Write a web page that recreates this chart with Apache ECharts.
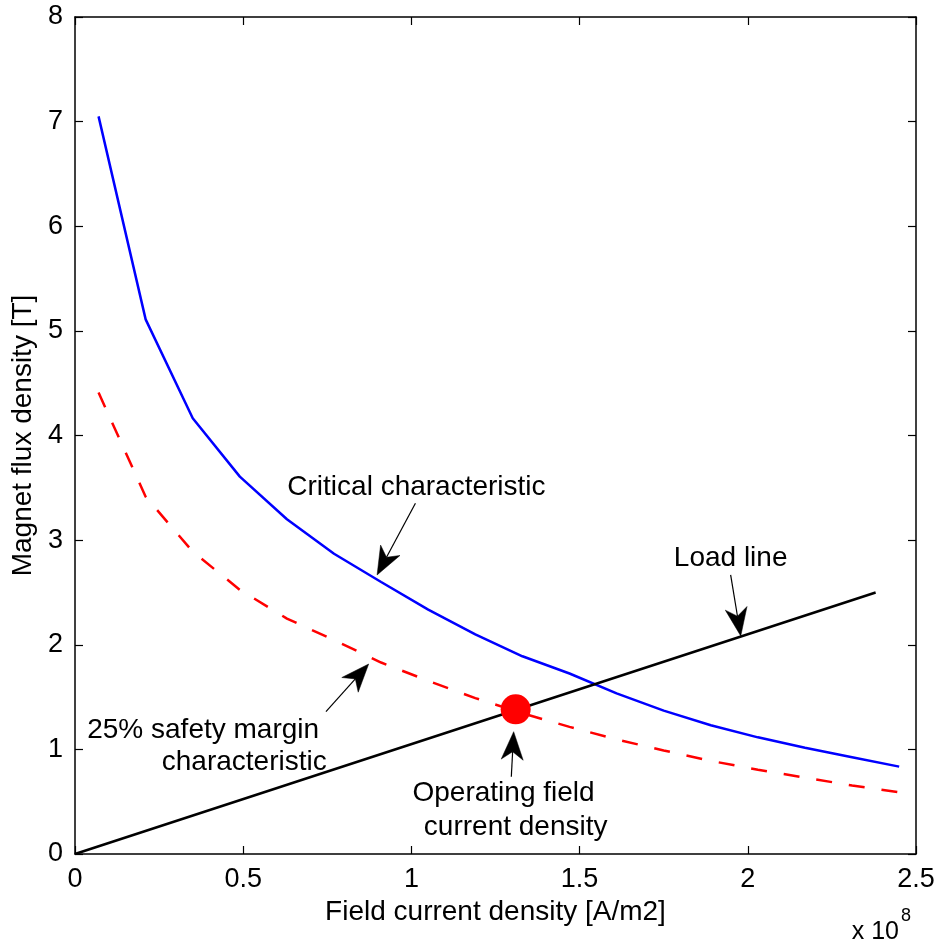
<!DOCTYPE html>
<html><head><meta charset="utf-8">
<script src="https://cdn.jsdelivr.net/npm/echarts@6/dist/echarts.min.js"></script>
<style>html,body{margin:0;padding:0;background:#fff}#c{width:938px;height:945px}</style>
</head><body><div id="c"></div>
<script>
// Field current density (units of 1e8 A/m2)
const currentDensity = [0.07,0.21,0.35,0.49,0.63,0.77,0.91,1.05,1.19,1.33,1.47,1.61,1.75,1.89,2.03,2.17,2.31,2.45];
// Critical characteristic (T)
const criticalB = [7.05,5.11,4.165,3.607,3.20,2.87,2.60,2.335,2.10,1.89,1.725,1.535,1.37,1.23,1.115,1.015,0.925,0.835];
// 25% safety margin characteristic (T)
const marginB = [4.41,3.415,2.89,2.525,2.25,2.045,1.83,1.655,1.49,1.345,1.215,1.095,0.99,0.89,0.805,0.73,0.655,0.59];
// Load line endpoints
const loadLineJ = [0, 2.38];
const loadLineB = [0, 2.5];
// Operating point
const operatingJ = [1.31];
const operatingB = [1.383];
// Axis ticks
const xTickValues = [0,0.5,1,1.5,2,2.5];
const yTickValues = [0,1,2,3,4,5,6,7,8];
const xAxisName = 'Field current density [A/m2]';
const yAxisName = 'Magnet flux density [T]';
const xScaleText = 'x 10';
const xScaleExp = '8';

// Annotations (text anchor and arrow start/tip in data coordinates)
const annotations = [
  {lines:[{t:'Critical characteristic', at:[1.015,3.509]}], from:[1.012,3.353], to:[0.898,2.667]},
  {lines:[{t:'Load line', at:[1.949,2.830]}], from:[1.949,2.667], to:[1.979,2.084]},
  {lines:[{t:'25% safety margin', at:[0.381,1.185]},{t:'characteristic', at:[0.503,0.880]}], from:[0.746,1.360], to:[0.873,1.816]},
  {lines:[{t:'Operating field', at:[1.274,0.583]},{t:'current density', at:[1.310,0.258]}], from:[1.297,0.739], to:[1.304,1.169]}
];

const FONT = '"Liberation Sans", Arial, Helvetica, sans-serif';
const zip = (a,b) => a.map((v,i)=>[v,b[i]]);

const chart = echarts.init(document.getElementById('c'), null, {renderer:'canvas'});
const axisLine = {show:true, onZero:false, lineStyle:{color:'#000', width:1.5}};
const tick = {show:true, inside:true, length:8, lineStyle:{color:'#000', width:1.2}};

chart.setOption({
  backgroundColor:'#fff',
  animation:false,
  grid:{left:75, right:22, top:17, bottom:91, containLabel:false},
  xAxis:[
    {type:'value', position:'bottom', min:0, max:2.5, interval:0.5,
     axisLine:axisLine, axisTick:tick, splitLine:{show:false},
     axisLabel:{fontSize:27, color:'#000', fontFamily:FONT, margin:12,
       formatter:v=>{const i=xTickValues.indexOf(+v.toFixed(2)); return i>=0?String(xTickValues[i]):'';}},
     name:xAxisName, nameLocation:'middle', nameGap:42,
     nameTextStyle:{fontSize:28, color:'#000', fontFamily:FONT}},
    {type:'value', position:'top', min:0, max:2.5, interval:0.5,
     axisLine:axisLine, axisTick:tick, splitLine:{show:false}, axisLabel:{show:false}}
  ],
  yAxis:[
    {type:'value', position:'left', min:0, max:8, interval:1,
     axisLine:axisLine, axisTick:tick, splitLine:{show:false},
     axisLabel:{fontSize:27, color:'#000', fontFamily:FONT, margin:12,
       formatter:v=>String(yTickValues[Math.round(v)])},
     name:yAxisName, nameLocation:'middle', nameGap:38,
     nameTextStyle:{fontSize:28, color:'#000', fontFamily:FONT}},
    {type:'value', position:'right', min:0, max:8, interval:1,
     axisLine:axisLine, axisTick:tick, splitLine:{show:false}, axisLabel:{show:false}}
  ],
  series:[
    {type:'line', data:zip(loadLineJ, loadLineB), symbol:'none', z:3,
     lineStyle:{color:'#000', width:2.5}},
    {type:'line', data:zip(currentDensity, criticalB), symbol:'none', z:2,
     lineStyle:{color:'#0000ff', width:2.5}},
    {type:'line', data:zip(currentDensity, marginB), symbol:'none', z:2,
     lineStyle:{color:'#ff0000', width:2.5, type:[16,17], cap:'butt'}},
    {type:'scatter', data:zip(operatingJ, operatingB), symbol:'circle', symbolSize:30, z:5,
     itemStyle:{color:'#ff0000', borderWidth:0, opacity:1}}
  ]
});

function px(p){ return chart.convertToPixel({gridIndex:0}, p); }
const graphics = [];
annotations.forEach(a=>{
  a.lines.forEach(l=>{
    const p = px(l.at);
    graphics.push({type:'text', x:p[0], y:p[1], z:10,
      style:{text:l.t, fill:'#000', font:'28px '+FONT, textAlign:'center', textVerticalAlign:'middle', align:'center', verticalAlign:'middle'}});
  });
  const s = px(a.from), t = px(a.to);
  const dx=t[0]-s[0], dy=t[1]-s[1], L=Math.hypot(dx,dy), ux=dx/L, uy=dy/L, nx=-uy, ny=ux;
  const HL=28, HW=11, NL=20;
  const b1=[t[0]-ux*HL+nx*HW, t[1]-uy*HL+ny*HW];
  const b2=[t[0]-ux*HL-nx*HW, t[1]-uy*HL-ny*HW];
  const nt=[t[0]-ux*NL, t[1]-uy*NL];
  graphics.push({type:'line', z:10, shape:{x1:s[0],y1:s[1],x2:nt[0],y2:nt[1]}, style:{stroke:'#000', lineWidth:1.2}});
  graphics.push({type:'polygon', z:10, shape:{points:[t,b1,nt,b2]}, style:{fill:'#000', stroke:'#000', lineWidth:0.5}});
});
const corner = px([2.5,0]);
graphics.push({type:'text', x:corner[0]-17, y:corner[1]+78, z:10,
  style:{text:xScaleText, fill:'#000', font:'25px '+FONT, textAlign:'right', textVerticalAlign:'middle', align:'right', verticalAlign:'middle'}});
graphics.push({type:'text', x:corner[0]-15, y:corner[1]+62, z:10,
  style:{text:xScaleExp, fill:'#000', font:'18px '+FONT, textAlign:'left', textVerticalAlign:'middle', align:'left', verticalAlign:'middle'}});
chart.setOption({graphic:graphics});
</script>
</body></html>
